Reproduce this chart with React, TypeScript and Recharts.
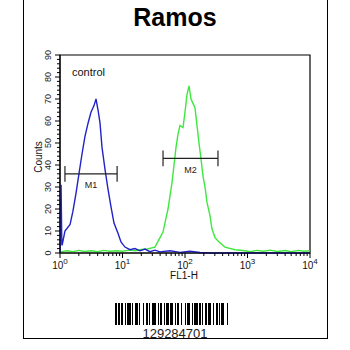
import React from 'react';
import {
  LineChart,
  Line,
  XAxis,
  YAxis,
  ReferenceLine,
  ReferenceArea,
  ReferenceDot,
} from 'recharts';

// control (blue) histogram, FL1 channel -> counts
const controlFl1 = [
  1, 1.04, 1.07, 1.08, 1.2, 1.45, 1.61, 1.8, 2.01, 2.25, 2.51, 2.81, 3.13, 3.5, 3.77,
  4.06, 4.37, 4.7, 5.25, 5.86, 6.55, 7.31, 8.47, 9.46, 10.96, 13.2, 15.8, 19.1, 22.9,
  27.5, 33.1, 39.8, 57.5, 83, 120, 174, 251, 10000,
];
const controlCounts = [
  0, 31, 4, 3.5, 10, 13, 19, 27, 36, 45, 53, 59, 64, 67, 70,
  65, 59, 48, 38, 29, 21, 13.6, 9, 5, 2.7, 1.5, 2, 1, 1.8,
  0.6, 1.3, 0.5, 1, 0.3, 0.8, 0.2, 0, 0,
];

// sample (green) histogram
const sampleFl1 = [
  1, 1.3, 1.6, 2, 2.5, 3.2, 4, 5, 6.3, 8, 10, 12.6, 16, 20, 25, 33, 39.8, 44.5, 49.7,
  53.5, 57.5, 62, 66.7, 71.8, 77.3, 83.2, 92.9, 100, 107.6, 115.9, 124.7, 134, 144.5,
  155.6, 167.5, 180, 194, 209, 225, 251, 270, 302, 350, 437, 631, 912, 1100, 1400,
  1800, 2300, 3000, 4000, 5000, 6500, 8000, 10000,
];
const sampleCounts = [
  0.5, 1, 0.6, 1.2, 0.7, 1, 0.6, 1.2, 0.8, 1, 0.8, 1.3, 1, 1.6, 1.8, 2.7, 7, 9.5, 16,
  20, 26, 32, 40, 48, 54, 58, 57, 64, 72, 76, 70, 68, 66,
  58, 50, 43, 35, 30, 23, 17, 11, 7, 5, 2.7, 1.5, 1, 0.6, 1.2,
  0.8, 1.3, 0.7, 1.1, 0.6, 1.2, 0.8, 1,
];

const xMajor = [1, 10, 100, 1000, 10000];
const xMinor = [2, 3, 4, 5, 6, 7, 8, 9];
const yTicks = [0, 10, 20, 30, 40, 50, 60, 70, 80, 90];

// markers
const markerNames = ['M1', 'M2'];
const markerFrom = [1.2, 44.5];
const markerTo = [8.2, 337];
const markerLevel = [36, 43];

const barcodeWidths = [
  2, 1, 1, 1, 2, 2, 1, 1, 3, 1, 1, 2, 2, 1, 1, 3, 1, 1, 2, 1, 1, 2, 3, 2, 1, 1, 2, 1,
  1, 1, 3, 1, 2, 2, 1, 1, 2, 1, 1, 3, 1, 1, 2, 2, 1, 1, 3, 1, 2, 1, 1, 2, 1, 1, 3, 2,
  1, 1, 2, 1, 1, 1, 2, 3, 1, 1,
];

const FONT = '"Liberation Sans", Arial, sans-serif';

const controlData = controlFl1.map((fl1, i) => ({ fl1, count: controlCounts[i] }));
const sampleData = sampleFl1.map((fl1, i) => ({ fl1, count: sampleCounts[i] }));

const xTicks: number[] = [];
xMajor.forEach((m, i) => {
  xTicks.push(m);
  if (i < xMajor.length - 1) xMinor.forEach((k) => xTicks.push(m * k));
});
const yAllTicks: number[] = [];
for (let v = 0; v <= 90; v += 2) yAllTicks.push(v);

const XTick = (props: any) => {
  const { x, y, payload } = props;
  const v = payload.value;
  const idx = xMajor.indexOf(v);
  const major = idx >= 0;
  return (
    <g>
      <line x1={x} y1={y} x2={x} y2={y + (major ? 5 : 3)} stroke="#000" />
      {major && (
        <text x={x} y={y + 16} textAnchor="middle" fontSize={10} fill="#111" fontFamily={FONT}>
          <tspan>10</tspan>
          <tspan dy={-5} fontSize={8}>{idx}</tspan>
        </text>
      )}
    </g>
  );
};

const YTick = (props: any) => {
  const { x, y, payload } = props;
  const v = payload.value;
  const major = yTicks.includes(v);
  return (
    <g>
      <line x1={x} y1={y} x2={x - (major ? 5 : 3)} y2={y} stroke="#000" />
      {major && (
        <text
          x={x - 9}
          y={y}
          textAnchor="middle"
          fontSize={9}
          fill="#222"
          fontFamily={FONT}
          transform={`rotate(-90 ${x - 9} ${y})`}
        >
          {v}
        </text>
      )}
    </g>
  );
};

export default function App() {
  return (
    <div style={{ position: 'absolute', left: 0, top: 0, width: 350, height: 350, background: '#fff' }}>
      <div
        style={{
          position: 'absolute',
          left: 23,
          top: -1,
          width: 303,
          height: 339,
          border: '1px solid #000',
          borderTop: 'none',
        }}
      />
      <div
        style={{
          position: 'absolute',
          left: 0,
          width: 350,
          top: 3,
          textAlign: 'center',
          fontFamily: FONT,
          fontWeight: 'bold',
          fontSize: 25,
        }}
      >
        Ramos
      </div>
      <div style={{ position: 'absolute', left: 0, top: 0 }}>
        <LineChart width={350} height={350} margin={{ top: 55, right: 40, left: 0, bottom: 67 }}>
          <XAxis
            dataKey="fl1"
            type="number"
            scale="log"
            domain={[1, 10000]}
            allowDataOverflow
            ticks={xTicks}
            interval={0}
            tickSize={0}
            tickMargin={0}
            tickLine={false}
            tick={<XTick />}
            height={30}
            stroke="#000"
          />
          <YAxis
            type="number"
            domain={[0, 90]}
            ticks={yAllTicks}
            interval={0}
            tickSize={0}
            tickMargin={0}
            tickLine={false}
            tick={<YTick />}
            width={60}
            stroke="#000"
          />
          <ReferenceArea x1={1} x2={10000} y1={0} y2={90} fill="none" stroke="#000" strokeWidth={1.2} />
          <Line
            data={sampleData}
            dataKey="count"
            type="linear"
            stroke="#3ee83e"
            strokeWidth={1.4}
            dot={false}
            isAnimationActive={false}
          />
          <Line
            data={controlData}
            dataKey="count"
            type="linear"
            stroke="#2222c8"
            strokeWidth={1.4}
            dot={false}
            isAnimationActive={false}
          />
          {markerNames.map((name, i) => (
            <React.Fragment key={name}>
              <ReferenceLine
                segment={[
                  { x: markerFrom[i], y: markerLevel[i] },
                  { x: markerTo[i], y: markerLevel[i] },
                ]}
                stroke="#222"
                strokeWidth={1.2}
              />
              <ReferenceLine
                segment={[
                  { x: markerFrom[i], y: markerLevel[i] - 3.6 },
                  { x: markerFrom[i], y: markerLevel[i] + 3.6 },
                ]}
                stroke="#222"
                strokeWidth={1.2}
              />
              <ReferenceLine
                segment={[
                  { x: markerTo[i], y: markerLevel[i] - 3.6 },
                  { x: markerTo[i], y: markerLevel[i] + 3.6 },
                ]}
                stroke="#222"
                strokeWidth={1.2}
              />
              <ReferenceDot
                x={Math.sqrt(markerFrom[i] * markerTo[i])}
                y={markerLevel[i]}
                r={0}
                fill="none"
                stroke="none"
                label={{ value: name, position: 'bottom', offset: 8, fontSize: 9, fill: '#222', fontFamily: FONT }}
              />
            </React.Fragment>
          ))}
        </LineChart>
      </div>
      <div style={{ position: 'absolute', left: 72, top: 66, fontFamily: FONT, fontSize: 11, color: '#111' }}>
        control
      </div>
      <div
        style={{
          position: 'absolute',
          left: 38,
          top: 157,
          transform: 'translate(-50%, -50%) rotate(-90deg)',
          fontFamily: FONT,
          fontSize: 10,
          color: '#111',
        }}
      >
        Counts
      </div>
      <div
        style={{
          position: 'absolute',
          left: 184,
          top: 275,
          transform: 'translate(-50%, -50%)',
          fontFamily: FONT,
          fontSize: 10,
          color: '#111',
        }}
      >
        FL1-H
      </div>
      <div style={{ position: 'absolute', left: 115, top: 303, height: 22, display: 'flex' }}>
        {barcodeWidths.map((w, i) => (
          <div key={i} style={{ width: w * 1.14, height: 22, background: i % 2 === 0 ? '#000' : '#fff' }} />
        ))}
      </div>
      <div
        style={{
          position: 'absolute',
          left: 0,
          width: 350,
          top: 326,
          textAlign: 'center',
          fontFamily: FONT,
          fontSize: 13,
          color: '#222',
        }}
      >
        129284701
      </div>
    </div>
  );
}
